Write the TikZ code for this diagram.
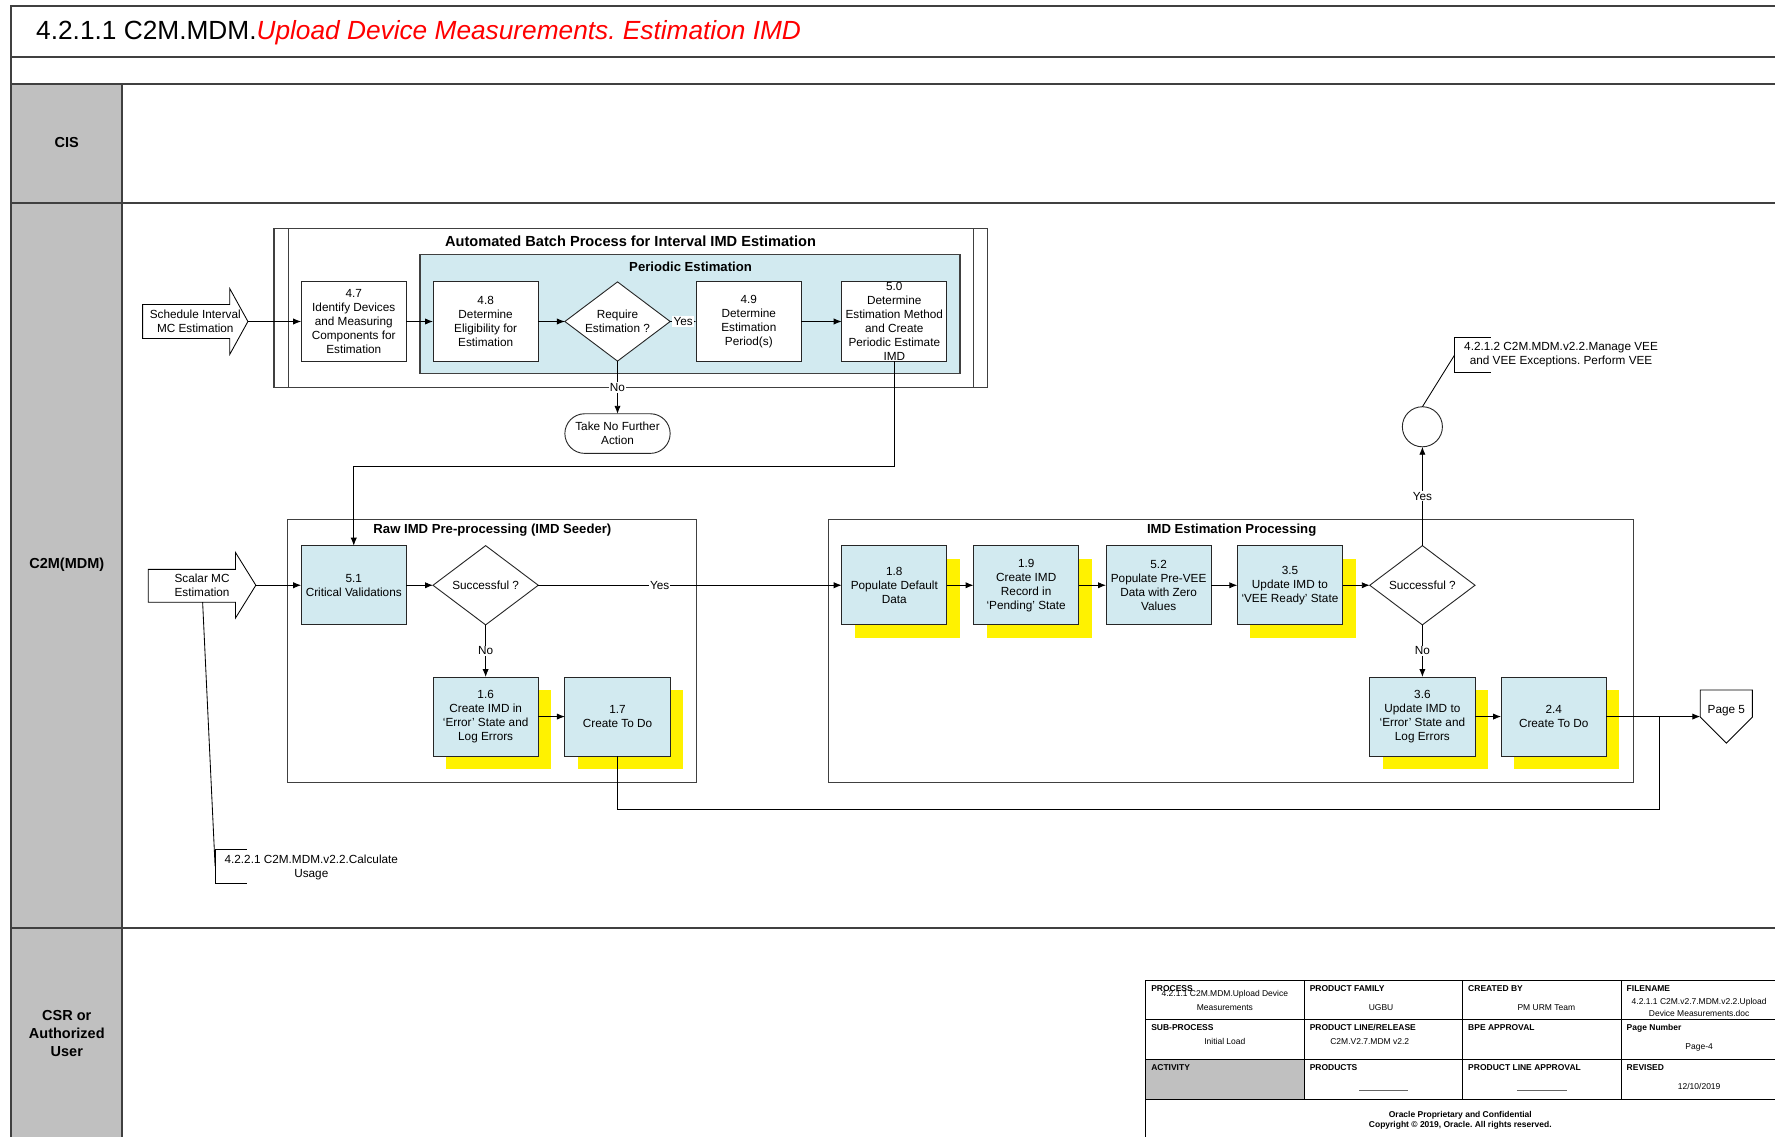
\documentclass[tikz,border=0pt]{standalone}
\usepackage{fontspec}
\setmainfont{Liberation Sans}
\usetikzlibrary{arrows.meta,shapes.geometric,shapes.misc,shadows,calc}
\frenchspacing

\definecolor{procblue}{RGB}{210,234,240}
\definecolor{lanegray}{RGB}{192,192,192}
\definecolor{framegray}{RGB}{64,64,64}

\newcommand\bodyfs{\fontsize{10.4}{12.3}\selectfont}
\newcommand\grouphead{\bfseries\fontsize{11.6}{14}\selectfont}
\newcommand\lanefs{\bfseries\fontsize{12.8}{15.5}\selectfont}
\newcommand\cellfs{\fontsize{7.5}{9.5}\selectfont}
\newcommand\celllab{\bfseries\fontsize{7.5}{9.5}\selectfont}

\begin{document}
\begin{tikzpicture}[x=1pt,y=-1pt,
  every node/.style={inner sep=0pt,outer sep=0pt},
  task/.style={rectangle,draw=black!85,line width=0.8pt,fill=procblue,
    minimum width=93pt,minimum height=70pt,align=center,font=\bodyfs},
  whitetask/.style={task,fill=white},
  yshadow/.style={general shadow={fill=yellow,shadow xshift=11.5pt,shadow yshift=-11.5pt}},
  decision/.style={diamond,draw=black!85,line width=0.8pt,fill=white,aspect=1.33,
    minimum width=93pt,minimum height=70pt,align=center,font=\bodyfs},
  conn/.style={line width=0.75pt,draw=black},
  arr/.style={conn,-{Latex[length=7pt,width=5.5pt]}},
  tag/.style={fill=white,font=\bodyfs,inner sep=1pt},
  groupline/.style={draw=framegray,line width=1.1pt},
  lanerule/.style={draw=framegray,line width=1.6pt},
  txt/.style={font=\bodyfs,align=center},
  cell/.style={anchor=west,font=\celllab},
  val/.style={font=\cellfs,align=center},
]
\clip (0,0) rectangle (1568,1004);
\fill[white] (0,0) rectangle (1568,1004);

% ---------- swimlane grid ----------
\fill[lanegray] (10,74) rectangle (108,1010);
\draw[lanerule] (10,1010) -- (10,5) -- (1580,5);
\draw[lanerule] (10,50) -- (1580,50);
\draw[lanerule] (10,74) -- (1580,74);
\draw[lanerule] (10,179.5) -- (1580,179.5);
\draw[lanerule] (10,820) -- (1580,820);
\draw[lanerule] (108,74) -- (108,1010);

\node[anchor=base west,font=\fontsize{23.2}{28}\selectfont] (title) at (32,34.8)
  {4.2.1.1 C2M.MDM.{\color{red}\itshape Upload Device Measurements. Estimation IMD}};

\node[font=\lanefs] (lcis) at (59,126) {CIS};
\node[font=\lanefs] (lmdm) at (59,499) {C2M(MDM)};
\node[font=\lanefs,align=center] (lcsr) at (59,913) {CSR or\\Authorized\\User};

% ---------- group frames ----------
\draw[groupline,fill=white] (242,202) rectangle (872,342);
\draw[groupline] (255,202) -- (255,342) (860,202) -- (860,342);
\node[font=\bfseries\fontsize{12.9}{14}\selectfont] (batchttl) at (557,213)
  {Automated Batch Process for Interval IMD Estimation};
\draw[groupline,fill=procblue] (371,225) rectangle (848,330);
\node[font=\grouphead] (periodttl) at (610,236) {Periodic Estimation};

\draw[groupline] (254,459) rectangle (615,691);
\node[font=\grouphead] (rawttl) at (435,468) {Raw IMD Pre-processing (IMD Seeder)};
\draw[groupline] (732,459) rectangle (1443,691);
\node[font=\grouphead] (estttl) at (1088,468) {IMD Estimation Processing};

% ---------- start events ----------
\draw[conn,fill=white] (126,269) -- (203,269) -- (203,255) -- (219,284) -- (203,313)
  -- (203,299) -- (126,299) -- cycle;
\node[txt,minimum width=93pt,minimum height=58pt] (sched) at (172.5,284)
  {Schedule Interval\\MC Estimation};
\draw[conn,fill=white] (131,503) -- (208,503) -- (208,488) -- (226,517) -- (208,546)
  -- (208,532) -- (131,532) -- cycle;
\node[txt,minimum width=95pt,minimum height=58pt] (scalar) at (178.5,517)
  {Scalar MC\\Estimation};
\coordinate (scalarfoot) at (179,532);

% ---------- batch estimation steps ----------
\node[whitetask] (n47) at (312.5,284) {4.7\\Identify Devices\\and Measuring\\Components for\\Estimation};
\node[whitetask] (n48) at (429,284) {4.8\\Determine\\Eligibility for\\Estimation};
\node[decision] (req) at (545.5,284) {Require\\Estimation ?};
\node[whitetask] (n49) at (661.5,284) {4.9\\Determine\\Estimation\\Period(s)};
\node[whitetask] (n50) at (790,284) {5.0\\Determine\\Estimation Method\\and Create\\Periodic Estimate\\IMD};
\node[rounded rectangle,draw=black!85,line width=0.8pt,fill=white,minimum width=93pt,
  minimum height=35pt,align=center,font=\bodyfs] (term) at (545.5,383) {Take No Further\\Action};

% ---------- raw IMD pre-processing ----------
\node[task] (n51) at (312.5,517) {5.1\\Critical Validations};
\node[decision] (succ1) at (429,517) {Successful ?};
\node[task,yshadow] (n16) at (429,633) {1.6\\Create IMD in\\‘Error’ State and\\Log Errors};
\node[task,yshadow] (n17) at (545.5,633) {1.7\\Create To Do};

% ---------- IMD estimation processing ----------
\node[task,yshadow] (n18) at (790,517) {1.8\\Populate Default\\Data};
\node[task,yshadow] (n19) at (906.5,517) {1.9\\Create IMD\\Record in\\‘Pending’ State};
\node[task] (n52) at (1023.5,517) {5.2\\Populate Pre-VEE\\Data with Zero\\Values};
\node[task,yshadow] (n35) at (1139.5,517) {3.5\\Update IMD to\\‘VEE Ready’ State};
\node[decision] (succ2) at (1256.5,517) {Successful ?};
\node[task,yshadow] (n36) at (1256.5,633) {3.6\\Update IMD to\\‘Error’ State and\\Log Errors};
\node[task,yshadow] (n24) at (1372.5,633) {2.4\\Create To Do};

\node[circle,draw=black!85,line width=0.8pt,fill=white,minimum size=35.4pt] (circ) at (1256.5,377) {};

% off-page reference
\node[minimum width=46pt,minimum height=47pt] (pg5) at (1525,633) {};
\draw[conn,fill=white] (pg5.north west) -- (pg5.north east) -- ($(pg5.north east)+(0,24)$)
  -- (pg5.south) -- ($(pg5.north west)+(0,24)$) -- cycle;
\node[txt] (pg5lbl) at (1525,628) {Page 5};

% ---------- connectors ----------
\draw[arr] (sched.east) -- (n47);
\draw[arr] (n47) -- (n48);
\draw[arr] (n48) -- (req);
\draw[arr] (req) -- node[tag]{Yes} (n49);
\draw[arr] (n49) -- (n50);
\draw[arr] (req.south) -- node[tag]{No} (term.north);
\coordinate (bend1) at (312.5,412);
\draw[arr] (n50.south) |- (bend1) -- (n51.north);

\draw[arr] (scalar.east) -- (n51);
\draw[arr] (n51) -- (succ1);
\draw[arr] (succ1) -- node[tag,pos=0.4]{Yes} (n18);
\draw[arr] (succ1.south) -- node[tag]{No} (n16.north);
\draw[arr] (n16) -- (n17);

\draw[arr] (n18) -- (n19);
\draw[arr] (n19) -- (n52);
\draw[arr] (n52) -- (n35);
\draw[arr] (n35) -- (succ2);
\draw[arr] (succ2.north) -- node[tag]{Yes} (circ.south);
\draw[arr] (succ2.south) -- node[tag]{No} (n36.north);
\draw[arr] (n36) -- (n24);
\draw[arr] (n24.east) -- (pg5.west);
\coordinate (jn) at (1466,715);
\draw[conn] (n17.south) |- (jn) -- (jn |- n24.east);

% ---------- annotations ----------
\coordinate (annA) at (1285,313.5);
\draw[conn] (1317,298) -- (1285,298) -- (1285,329) -- (1317,329);
\node[txt] (annAtxt) at (1379,313) {4.2.1.2 C2M.MDM.v2.2.Manage VEE\\and VEE Exceptions. Perform VEE};
\draw[conn] (circ.north) -- (annA);

\coordinate (annB) at (190,765);
\draw[conn] (218,750) -- (190,750) -- (190,780) -- (218,780);
\node[txt] (annBtxt) at (275,766) {4.2.2.1 C2M.MDM.v2.2.Calculate\\Usage};
\draw[conn] (scalarfoot) -- (annB);

% ---------- title block ----------
\fill[lanegray] (1012,936) rectangle (1152,971);
\draw[line width=0.9pt] (1012,1010) -- (1012,866) -- (1580,866);
\draw[line width=0.9pt] (1012,901) -- (1580,901) (1012,936) -- (1580,936) (1012,971) -- (1580,971);
\draw[line width=0.9pt] (1152,866) -- (1152,971) (1292,866) -- (1292,971) (1432,866) -- (1432,971);

\node[cell] (cproc) at (1017,873) {PROCESS};
\node[cell] (cfam) at (1157,873) {PRODUCT FAMILY};
\node[cell] (cby) at (1297,873) {CREATED BY};
\node[cell] (cfile) at (1437,873) {FILENAME};
\node[cell] (csub) at (1017,908) {SUB-PROCESS};
\node[cell] (crel) at (1157,908) {PRODUCT LINE/RELEASE};
\node[cell] (cbpe) at (1297,908) {BPE APPROVAL};
\node[cell] (cpage) at (1437,908) {Page Number};
\node[cell] (cact) at (1017,943) {ACTIVITY};
\node[cell] (cprods) at (1157,943) {PRODUCTS};
\node[cell] (cpla) at (1297,943) {PRODUCT LINE APPROVAL};
\node[cell] (crev) at (1437,943) {REVISED};

\node[val] (vproc1) at (1082,878.5) {4.2.1.1 C2M.MDM.Upload Device};
\node[val] (vproc2) at (1082,890.5) {Measurements};
\node[val] (vfam) at (1220,890.5) {UGBU};
\node[val] (vby) at (1366,890.5) {PM URM Team};
\node[val] (vfile1) at (1501,885) {4.2.1.1 C2M.v2.7.MDM.v2.2.Upload};
\node[val] (vfile2) at (1501,895.5) {Device Measurements.doc};
\node[val] (vsub) at (1082,920) {Initial Load};
\node[val] (vrel) at (1210,920) {C2M.V2.7.MDM v2.2};
\node[val] (vpage) at (1501,925) {Page-4};
\node[val] (vprods) at (1222,963) {\textcolor{black!60}{\rule{43pt}{0.5pt}}};
\node[val] (vpla) at (1362,963) {\textcolor{black!60}{\rule{44pt}{0.5pt}}};
\node[val] (vrev) at (1501,960) {12/10/2019};

\node[font=\celllab] (foot1) at (1290,985) {Oracle Proprietary and Confidential};
\node[font=\celllab] (foot2) at (1290,994.5) {Copyright © 2019, Oracle. All rights reserved.};
\end{tikzpicture}
\end{document}
